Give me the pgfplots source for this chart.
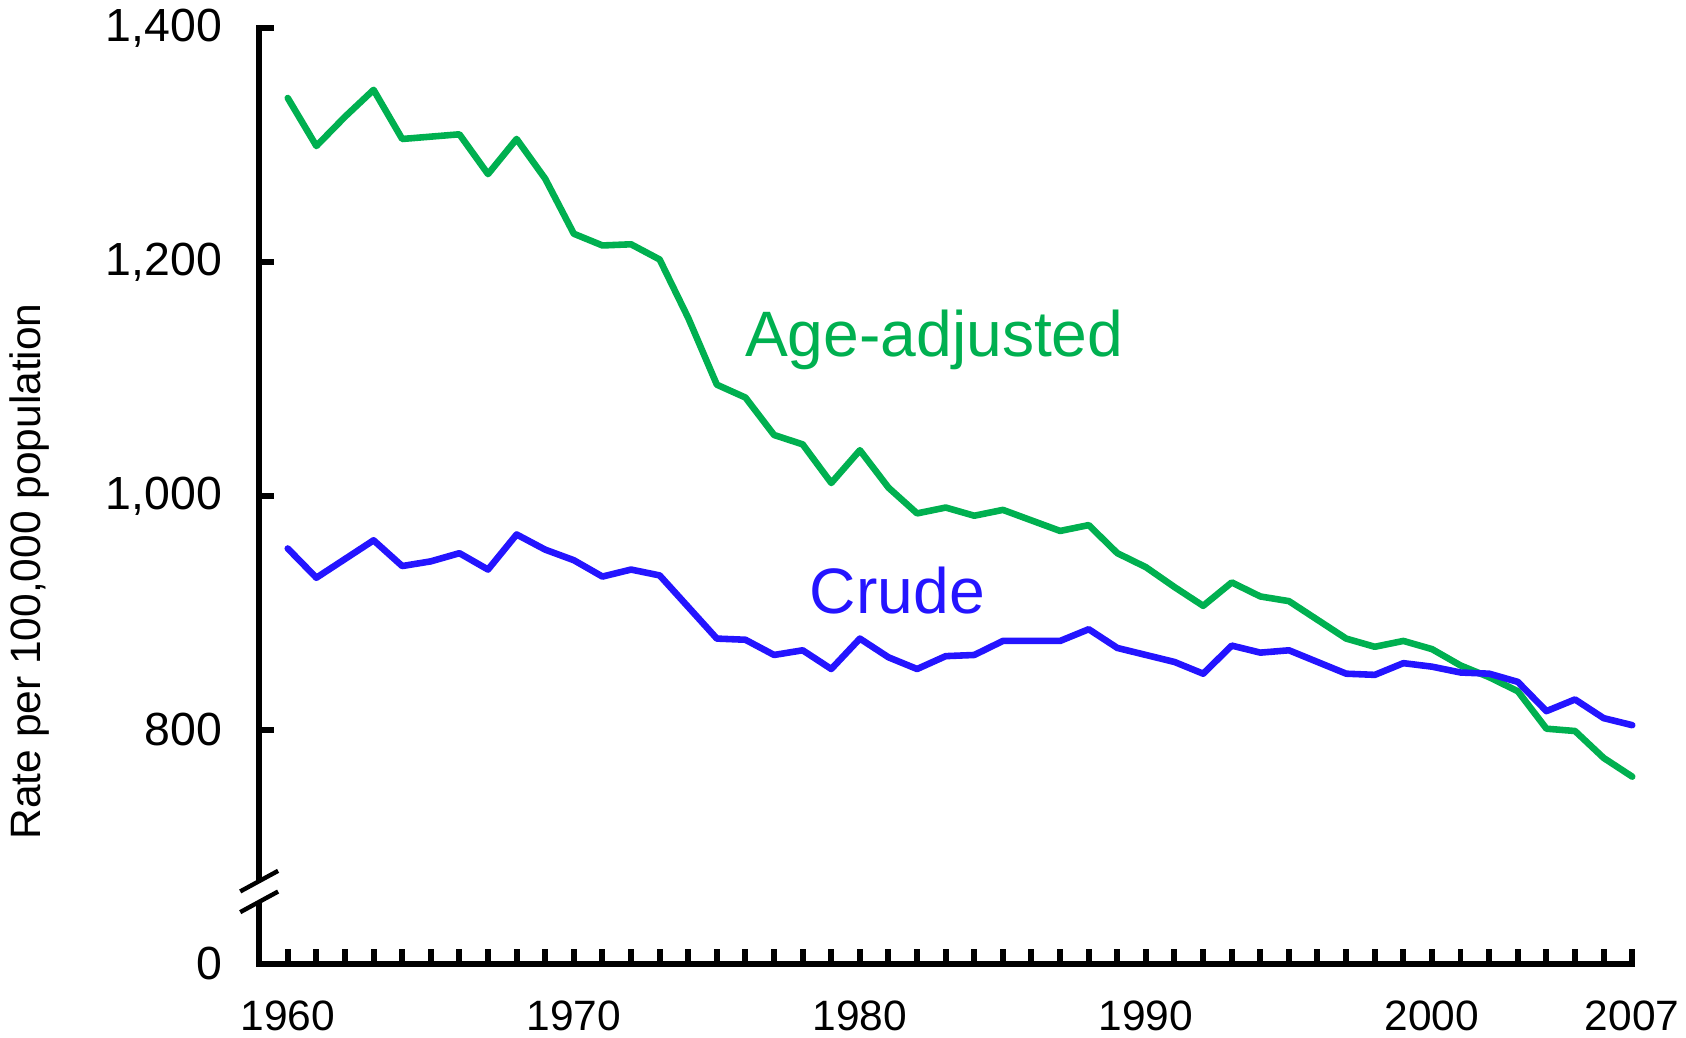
\documentclass[border=0pt]{standalone}
\usepackage{pgfplots}
\pgfplotsset{compat=1.18}
\usepackage{fontspec}
\setmainfont{Liberation Sans}
\definecolor{agegreen}{RGB}{0,176,80}
\definecolor{crudeblue}{RGB}{36,20,255}
\pgfplotstableread{
year age crude
1960 1340 955
1961 1299 930
1962 1324 946
1963 1347 962
1964 1305 940
1965 1307 944
1966 1309 951
1967 1275 937
1968 1305 967
1969 1271 954
1970 1224 945
1971 1214 931
1972 1215 937
1973 1202 932
1974 1152 905
1975 1095 878
1976 1084 877
1977 1052 864
1978 1044 868
1979 1011 852
1980 1039 878
1981 1007 862
1982 985 852
1983 990 863
1984 983 864
1985 988 876
1986 979 876
1987 970 876
1988 975 886
1989 951 870
1990 939 864
1991 922 858
1992 906 848
1993 926 872
1994 914 866
1995 910 868
1996 894 858
1997 878 848
1998 871 847
1999 876 857
2000 869 854
2001 855 849
2002 845 848
2003 833 841
2004 801 816
2005 799 826
2006 776 810
2007 760 804
}\datatable
\begin{document}
\begin{tikzpicture}
\begin{axis}[
  scale only axis,
  width=688.5pt, height=469.35pt,
  xmin=1959, xmax=2007, ymin=600, ymax=1400,
  axis lines*=left,
  axis line style={line width=3.2pt, line cap=rect},
  clip=false,
  tick align=inside,
  major tick length=7.3pt,
  every tick/.style={black, line width=3pt},
  xtick={1960,...,2007},
  xticklabels={1960,,,,,,,,,,1970,,,,,,,,,,1980,,,,,,,,,,1990,,,,,,,,,,2000,,,,,,,2007},
  ytick={600,800,1000,1200,1400},
  yticklabels={0,800,{1,000},{1,200},{1,400}},
  xticklabel style={font=\fontsize{21.3}{25}\selectfont, yshift=-15pt},
  yticklabel style={font=\fontsize{23.3}{27}\selectfont, xshift=-15pt},
]
\addplot[agegreen, line width=3.3pt, line join=round, line cap=round] table[x=year, y=age] {\datatable};
\addplot[crudeblue, line width=3.3pt, line join=round, line cap=round] table[x=year, y=crude] {\datatable};
\node[anchor=base west, text=agegreen, font=\fontsize{32.2}{38}\selectfont, inner sep=0pt] at (axis cs:1975.97,1118.8) {Age-adjusted};
\node[anchor=base west, text=crudeblue, font=\fontsize{32.2}{38}\selectfont, inner sep=0pt] at (axis cs:1978.24,899.7) {Crude};
\node[rotate=90, font=\fontsize{21.3}{25}\selectfont, inner sep=0pt] at (axis cs:1950.98,935.5) {Rate per 100,000 population};
% axis break
\fill[white] (axis cs:1958.75,653) rectangle (axis cs:1959.25,670.7);
\draw[line width=2.2pt] (axis cs:1958.338,661.9) -- (axis cs:1959.662,679.5);
\draw[line width=2.2pt] (axis cs:1958.338,644.2) -- (axis cs:1959.662,661.8);
\path (axis cs:1949.94,537.5) rectangle (axis cs:2008.70,1423.8);
\end{axis}
\end{tikzpicture}
\end{document}
